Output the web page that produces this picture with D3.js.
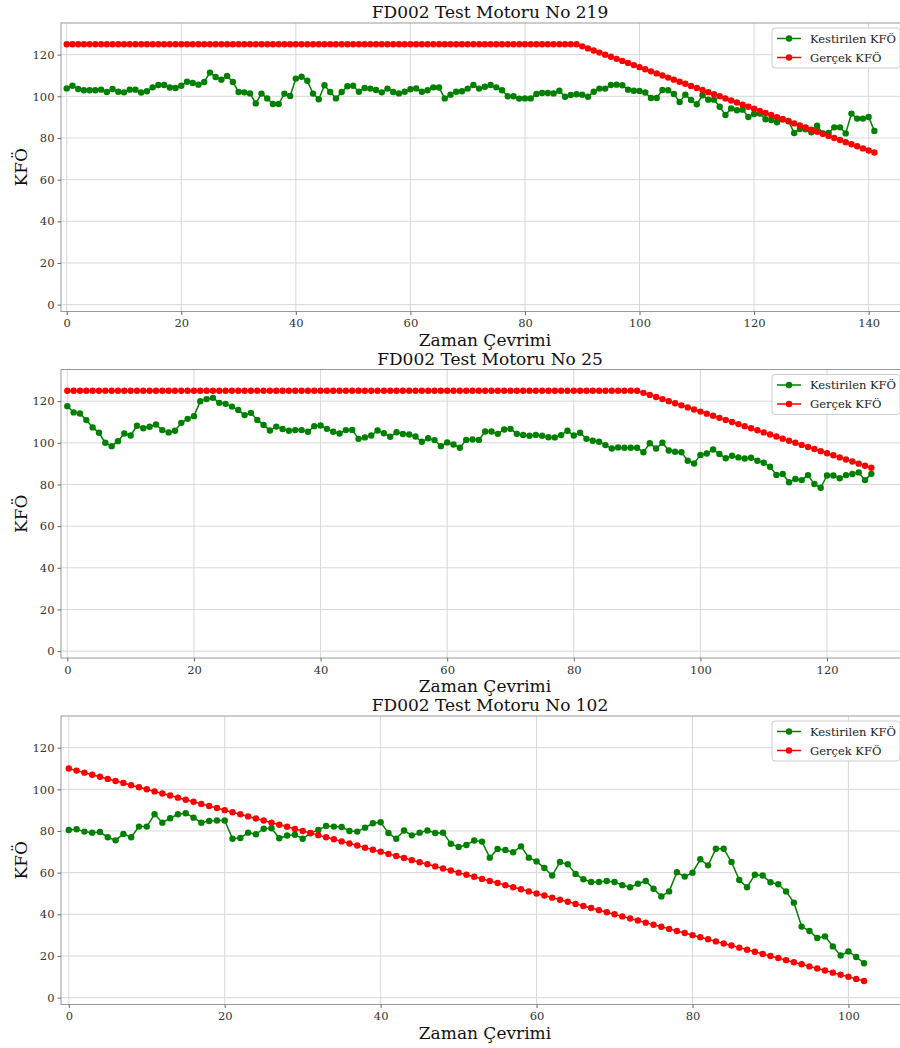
<!DOCTYPE html>
<html>
<head>
<meta charset="utf-8">
<script src="https://cdnjs.cloudflare.com/ajax/libs/d3/7.8.5/d3.min.js"></script>
<style>
body { margin: 0; background: #fff; }
svg text { font-family: "DejaVu Serif", serif; }
</style>
</head>
<body>
<div id="chart"></div>
<script>
// estimated (green) and true (red) RUL per engine
var predicted219 = [
  103.8,105.1,103.5,102.9,102.9,102.9,103.2,102.1,103.5,102.2,
  101.9,103.2,103.2,101.8,102.4,104.3,105.4,105.4,104.2,104.0,
  105.1,107.0,106.4,105.6,106.9,111.4,109.3,108.0,109.8,106.9,
  102.1,101.9,101.4,96.6,101.3,99.0,96.3,96.3,101.3,100.2,
  108.5,109.4,107.5,101.3,98.6,105.3,102.1,99.0,102.1,104.8,
  105.1,102.2,104.0,103.7,103.0,101.9,103.7,102.1,101.4,102.2,
  103.4,103.8,102.2,102.9,104.3,104.2,99.0,100.8,102.2,102.4,
  103.7,105.4,103.7,104.6,105.4,104.3,102.9,100.0,100.0,98.9,
  99.0,99.0,101.1,101.6,101.6,101.4,102.7,99.8,100.6,101.0,
  100.8,99.8,102.2,103.7,103.7,105.4,105.6,105.3,103.2,102.7,
  102.6,101.8,99.2,99.2,103.0,102.9,101.1,97.3,100.8,98.2,
  96.2,100.5,98.4,98.4,95.0,91.0,94.2,93.3,93.6,90.1,
  91.5,91.7,89.0,88.6,87.5,89.0,88.2,82.4,84.3,84.2,
  82.7,85.9,82.2,82.4,85.1,85.1,82.2,91.7,89.3,89.3,
  90.1,83.4
];
var actual219 = [
  125,125,125,125,125,125,125,125,125,125,
  125,125,125,125,125,125,125,125,125,125,
  125,125,125,125,125,125,125,125,125,125,
  125,125,125,125,125,125,125,125,125,125,
  125,125,125,125,125,125,125,125,125,125,
  125,125,125,125,125,125,125,125,125,125,
  125,125,125,125,125,125,125,125,125,125,
  125,125,125,125,125,125,125,125,125,125,
  125,125,125,125,125,125,125,125,125,125,
  124,123,122,121,120,119,118,117,116,115,
  114,113,112,111,110,109,108,107,106,105,
  104,103,102,101,100,99,98,97,96,95,
  94,93,92,91,90,89,88,87,86,85,
  84,83,82,81,80,79,78,77,76,75,
  74,73
];

var predicted25 = [
  117.6,114.6,114.1,110.9,107.4,104.8,100.0,98.4,100.8,104.5,
  103.5,108.2,107.0,107.7,108.8,106.1,105.0,105.8,109.6,111.5,
  112.8,120.0,121.0,121.6,119.2,118.7,117.4,115.8,113.3,114.4,
  111.0,108.6,105.9,107.8,106.6,105.8,106.1,106.1,105.3,108.0,
  108.3,106.7,105.3,104.5,106.1,106.2,101.9,102.6,103.5,105.9,
  104.6,102.9,105.1,104.2,104.0,103.0,100.5,102.2,101.3,98.4,
  100.2,99.2,97.6,101.4,101.6,101.4,105.4,105.4,104.3,106.4,
  106.7,104.3,103.8,103.4,103.8,103.4,102.7,102.6,103.7,105.8,
  103.5,104.8,101.9,101.0,100.5,98.9,97.3,97.8,97.6,97.6,
  97.6,95.5,99.8,97.3,100.0,96.3,95.7,95.5,91.4,90.1,
  94.2,94.9,96.8,94.6,92.6,93.8,93.0,92.5,92.8,91.4,
  90.4,88.5,84.6,85.0,81.1,82.6,82.1,84.5,80.2,78.4,
  84.3,84.3,83.0,84.5,85.0,85.8,82.1,85.1
];
var actual25 = [
  125,125,125,125,125,125,125,125,125,125,
  125,125,125,125,125,125,125,125,125,125,
  125,125,125,125,125,125,125,125,125,125,
  125,125,125,125,125,125,125,125,125,125,
  125,125,125,125,125,125,125,125,125,125,
  125,125,125,125,125,125,125,125,125,125,
  125,125,125,125,125,125,125,125,125,125,
  125,125,125,125,125,125,125,125,125,125,
  125,125,125,125,125,125,125,125,125,125,
  125,124,123,122,121,120,119,118,117,116,
  115,114,113,112,111,110,109,108,107,106,
  105,104,103,102,101,100,99,98,97,96,
  95,94,93,92,91,90,89,88
];

var predicted102 = [
  80.5,80.8,79.7,79.2,79.5,77.0,75.5,78.6,77.0,82.1,
  82.1,88.0,84.0,86.1,88.0,88.5,86.4,84.0,84.8,85.0,
  85.0,76.3,76.6,79.2,78.4,81.1,81.3,76.5,77.8,78.2,
  76.3,78.9,80.5,82.4,82.1,81.9,80.0,79.7,81.6,83.7,
  84.2,79.0,76.3,80.2,77.9,79.2,80.2,79.0,79.2,73.9,
  72.3,73.3,75.4,74.9,67.2,71.4,70.9,69.8,72.6,67.2,
  65.4,62.2,58.6,65.1,64.0,59.4,56.8,55.5,55.5,56.0,
  55.5,54.0,53.0,54.7,56.0,52.3,48.6,51.0,60.2,58.1,
  60.0,66.4,63.5,71.5,71.5,65.1,56.5,53.0,59.0,58.6,
  55.4,54.4,51.0,45.6,34.1,32.0,28.6,29.4,24.6,20.2,
  22.2,19.5,16.5
];
var actual102 = [
  110,109,108,107,106,105,104,103,102,101,
  100,99,98,97,96,95,94,93,92,91,
  90,89,88,87,86,85,84,83,82,81,
  80,79,78,77,76,75,74,73,72,71,
  70,69,68,67,66,65,64,63,62,61,
  60,59,58,57,56,55,54,53,52,51,
  50,49,48,47,46,45,44,43,42,41,
  40,39,38,37,36,35,34,33,32,31,
  30,29,28,27,26,25,24,23,22,21,
  20,19,18,17,16,15,14,13,12,11,
  10,9,8
];

var yTicks = [0, 20, 40, 60, 80, 100, 120];
var xTicks219 = [0, 20, 40, 60, 80, 100, 120, 140];
var xTicks25 = [0, 20, 40, 60, 80, 100, 120];
var xTicks102 = [0, 20, 40, 60, 80, 100];
var seriesNames = ["Kestirilen KFÖ", "Gerçek KFÖ"];

var width = 900, height = 1048;
var svg = d3.select("#chart").append("svg")
    .attr("width", width)
    .attr("height", height);

var panels = [
  {title: "FD002 Test Motoru No 219", pred: predicted219, actual: actual219, ticks: xTicks219, top: 23},
  {title: "FD002 Test Motoru No 25", pred: predicted25, actual: actual25, ticks: xTicks25, top: 369.5},
  {title: "FD002 Test Motoru No 102", pred: predicted102, actual: actual102, ticks: xTicks102, top: 716}
];

panels.forEach(drawPanel);

function drawPanel(p) {
  var left = 61, plotW = 842, plotH = 288.5, top = p.top, bottom = top + plotH;
  var n = p.pred.length;

  var x = d3.scaleLinear().domain([-1, n - 1 + 5]).range([left, left + plotW]);
  var y = d3.scaleLinear().domain([-3.3, 135.2]).range([bottom, top]);

  var g = svg.append("g");

  // grid
  g.append("g").selectAll("line").data(p.ticks).enter().append("line")
      .attr("x1", function(d) { return x(d); }).attr("x2", function(d) { return x(d); })
      .attr("y1", top).attr("y2", bottom)
      .attr("stroke", "#d8d8d8").attr("stroke-width", 1);
  g.append("g").selectAll("line").data(yTicks).enter().append("line")
      .attr("x1", left).attr("x2", left + plotW)
      .attr("y1", function(d) { return y(d); }).attr("y2", function(d) { return y(d); })
      .attr("stroke", "#d8d8d8").attr("stroke-width", 1);

  // frame
  g.append("rect")
      .attr("x", left).attr("y", top)
      .attr("width", plotW).attr("height", plotH)
      .attr("fill", "none").attr("stroke", "#999").attr("stroke-width", 1);

  // axes
  var yAxis = d3.axisLeft(y).tickValues(yTicks).tickSize(3.5).tickPadding(3);
  var xAxis = d3.axisBottom(x).tickValues(p.ticks).tickSize(3.5).tickPadding(4);

  var ya = g.append("g").attr("transform", "translate(" + left + ",0)").call(yAxis);
  var xa = g.append("g").attr("transform", "translate(0," + bottom + ")").call(xAxis);
  [ya, xa].forEach(function(a) {
    a.select(".domain").remove();
    a.selectAll(".tick line").attr("stroke", "#666");
    a.selectAll(".tick text")
        .attr("fill", "#333")
        .style("font-family", "'DejaVu Serif', serif")
        .style("font-size", "11.5px");
  });

  // series
  var line = d3.line()
      .x(function(d, i) { return x(i); })
      .y(function(d) { return y(d); });

  var colors = ["#008000", "#ff0000"];
  [p.pred, p.actual].forEach(function(vals, k) {
    g.append("path")
        .datum(vals)
        .attr("d", line)
        .attr("fill", "none")
        .attr("stroke", colors[k])
        .attr("stroke-width", 1.5);
    g.append("g").selectAll("circle").data(vals).enter().append("circle")
        .attr("cx", function(d, i) { return x(i); })
        .attr("cy", function(d) { return y(d); })
        .attr("r", 3.2)
        .attr("fill", colors[k]);
  });

  // titles & labels
  g.append("text")
      .attr("x", 490).attr("y", top - 5)
      .attr("text-anchor", "middle")
      .style("font-size", "17px")
      .attr("fill", "#111")
      .text(p.title);

  g.append("text")
      .attr("x", 485).attr("y", bottom + 34)
      .attr("text-anchor", "middle")
      .style("font-size", "17px")
      .attr("fill", "#111")
      .text("Zaman Çevrimi");

  g.append("text")
      .attr("transform", "translate(27," + (top + plotH / 2) + ") rotate(-90)")
      .attr("text-anchor", "middle")
      .style("font-size", "17px")
      .attr("fill", "#111")
      .text("KFÖ");

  // legend
  var lg = g.append("g").attr("transform", "translate(772," + (top + 5) + ")");
  lg.append("rect")
      .attr("width", 128).attr("height", 40).attr("rx", 3)
      .attr("fill", "#fff").attr("fill-opacity", 0.8)
      .attr("stroke", "#ccc");
  seriesNames.forEach(function(name, k) {
    var ry = 10.5 + k * 19;
    lg.append("line")
        .attr("x1", 5).attr("x2", 29).attr("y1", ry).attr("y2", ry)
        .attr("stroke", colors[k]).attr("stroke-width", 1.5);
    lg.append("circle").attr("cx", 17).attr("cy", ry).attr("r", 3.2).attr("fill", colors[k]);
    lg.append("text")
        .attr("x", 38).attr("y", ry)
        .attr("dy", "0.35em")
        .style("font-size", "11.5px")
        .attr("fill", "#222")
        .text(name);
  });
}
</script>
</body>
</html>
